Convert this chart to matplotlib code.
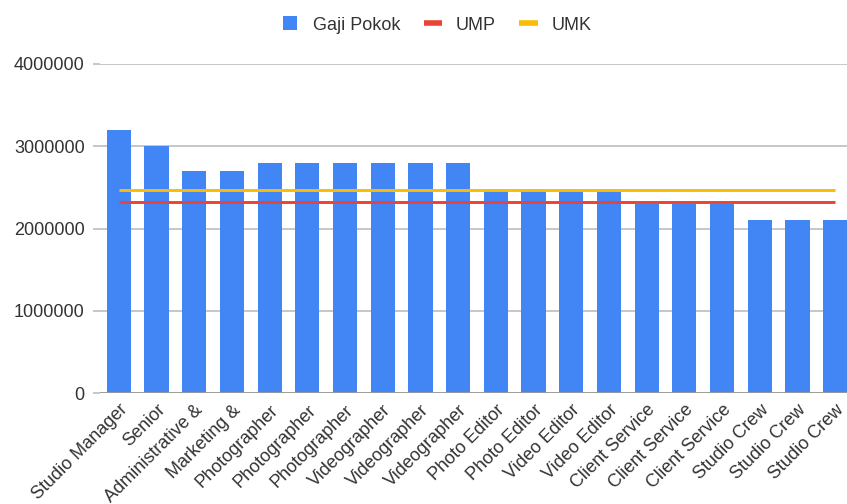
import matplotlib
matplotlib.use("Agg")
import matplotlib.pyplot as plt
from matplotlib.lines import Line2D

categories = ["Studio Manager", "Senior", "Administrative &", "Marketing &",
              "Photographer", "Photographer", "Photographer",
              "Videographer", "Videographer", "Videographer",
              "Photo Editor", "Photo Editor", "Video Editor", "Video Editor",
              "Client Service", "Client Service", "Client Service",
              "Studio Crew", "Studio Crew", "Studio Crew"]
gaji_pokok = [3200000, 3000000, 2700000, 2700000,
              2800000, 2800000, 2800000,
              2800000, 2800000, 2800000,
              2450000, 2450000, 2450000, 2450000,
              2300000, 2300000, 2300000,
              2100000, 2100000, 2100000]
ump = [2320000] * len(categories)
umk = [2470000] * len(categories)
yticks = [0, 1000000, 2000000, 3000000, 4000000]

BLUE = "#4285F4"
RED = "#EA4335"
YELLOW = "#FBBC04"
TXT = "#333333"

plt.rcParams["font.family"] = ["Liberation Sans", "DejaVu Sans"]

fig = plt.figure(figsize=(8.47, 5.04), dpi=100)
ax = fig.add_axes([100 / 847, (504 - 393) / 504, 754 / 847, 329 / 504])

x = list(range(len(categories)))
ax.bar(x, gaji_pokok, width=0.64, color=BLUE, zorder=2)
ax.plot(x, ump, color=RED, linewidth=2.1, zorder=3, solid_capstyle="butt")
ax.plot(x, umk, color=YELLOW, linewidth=2.1, zorder=3, solid_capstyle="butt")

ax.set_xlim(-0.5, len(categories) - 0.5)
ax.set_ylim(0, 4000000)
ax.set_yticks(yticks)
ax.set_yticklabels([str(v) for v in yticks], fontsize=13, color=TXT)
ax.yaxis.grid(True, color="#bdbdbd", linewidth=1.2, zorder=0)
ax.axhline(0, color="#9a9a9a", linewidth=1.3, zorder=4)
ax.tick_params(axis="y", length=5, width=1.2, color="#bdbdbd", pad=6)

ax.set_xticks(x)
ax.set_xticklabels(categories, rotation=45, ha="right", va="top",
                   rotation_mode="anchor", fontsize=13, color=TXT)
ax.tick_params(axis="x", length=0, pad=6)

for s in ax.spines.values():
    s.set_visible(False)

handles = [Line2D([0], [0], marker="s", markersize=10, markeredgewidth=0,
                  color=BLUE, linestyle="none"),
           Line2D([0], [0], color=RED, linewidth=4, solid_capstyle="butt"),
           Line2D([0], [0], color=YELLOW, linewidth=4, solid_capstyle="butt")]
leg = fig.legend(handles, ["Gaji Pokok", "UMP", "UMK"], loc="center",
                 bbox_to_anchor=(436 / 847, 1 - 25 / 504), ncol=3, frameon=False,
                 fontsize=13, handlelength=1.05,
                 handletextpad=0.75, columnspacing=1.3)
for t in leg.get_texts():
    t.set_color(TXT)

fig.savefig("out.png", dpi=100)
